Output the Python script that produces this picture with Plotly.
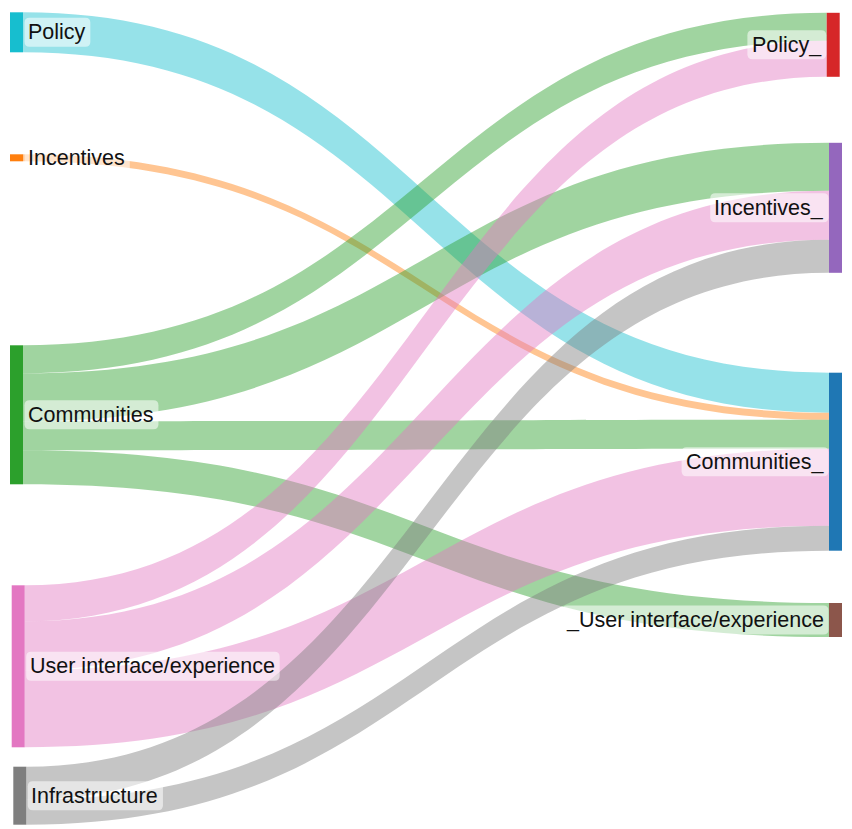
import plotly.graph_objects as go

# ---- data ----
node_labels = ["Policy", "Incentives", "Communities", "User interface/experience", "Infrastructure",
               "Policy_", "Incentives_", "Communities_", "_User interface/experience"]
node_colors = ["#17becf", "#ff7f0e", "#2ca02c", "#e377c2", "#7f7f7f",
               "#d62728", "#9467bd", "#1f77b4", "#8c564b"]

link_source = [0, 1, 2, 2, 2, 2, 3, 3, 3, 4, 4]
link_target = [7, 7, 5, 6, 7, 8, 5, 6, 7, 6, 7]
link_value = [40, 7, 28, 48, 29, 34, 36, 49, 77, 33, 25]

# ---- node placement (fractions of the plot area) ----
node_x = [0.01007, 0.01007, 0.01007, 0.01209, 0.01398, 0.97773, 0.98045, 0.98045, 0.98045]
node_y = [0.02960, 0.18246, 0.49549, 0.80183, 0.95944, 0.04482, 0.24336, 0.55262, 0.74543]

# ---- styling ----
W, H = 844, 821
THICK = 13
PAD = 103.75
FONT = "Arial"
FSIZE = 21.5
TEXT_COLOR = "#111"


def rgba(hex_color, a):
    h = hex_color.lstrip("#")
    r, g, b = int(h[0:2], 16), int(h[2:4], 16), int(h[4:6], 16)
    return f"rgba({r},{g},{b},{a})"


# approximate Arial advance widths (per 1000 em) for label boxes
ARIAL = {' ': 278, '/': 278, '_': 556, 'C': 722, 'I': 278, 'P': 667, 'U': 722,
         'a': 556, 'c': 500, 'e': 556, 'f': 278, 'i': 222, 'l': 222, 'm': 833,
         'n': 556, 'o': 556, 'p': 556, 'r': 333, 's': 500, 't': 278, 'u': 556,
         'v': 500, 'x': 500, 'y': 500}


def text_width(s):
    return sum(ARIAL.get(ch, 556) for ch in s) / 1000.0 * FSIZE


link_colors = [rgba(node_colors[s], 0.45) for s in link_source]

fig = go.Figure(go.Sankey(
    arrangement="freeform",
    node=dict(
        label=["" for _ in node_labels],
        customdata=node_labels,
        hovertemplate="%{customdata}: %{value}<extra></extra>",
        color=node_colors,
        x=node_x,
        y=node_y,
        thickness=THICK,
        pad=PAD,
        line=dict(width=0),
    ),
    link=dict(
        source=link_source,
        target=link_target,
        value=link_value,
        color=link_colors,
    ),
))

# node labels: rounded semi-transparent boxes + text
shapes = []
annotations = []
BOX_H = 29
R = 5
for i, lab in enumerate(node_labels):
    cx = node_x[i] * W
    cy = node_y[i] * H
    w = text_width(lab)
    if node_x[i] < 0.5:
        nx1 = cx + THICK / 2
        tx = nx1 + 5
        bx0, bx1 = nx1 + 1.5, tx + w + 5
        xanchor = "left"
    else:
        nx0 = cx - THICK / 2
        tx = nx0 - 5
        bx0, bx1 = tx - w - 5, nx0 - 0.5
        xanchor = "right"
    x0, x1 = bx0 / W, bx1 / W
    top, bot = 1 - (cy - BOX_H / 2) / H, 1 - (cy + BOX_H / 2) / H
    rx, ry = R / W, R / H
    path = (f"M {x0+rx},{top} L {x1-rx},{top} Q {x1},{top} {x1},{top-ry} "
            f"L {x1},{bot+ry} Q {x1},{bot} {x1-rx},{bot} L {x0+rx},{bot} "
            f"Q {x0},{bot} {x0},{bot+ry} L {x0},{top-ry} Q {x0},{top} {x0+rx},{top} Z")
    shapes.append(dict(type="path", path=path, xref="paper", yref="paper",
                       fillcolor="rgba(255,255,255,0.55)", line=dict(width=0),
                       layer="above"))
    annotations.append(dict(text=lab, x=tx / W, y=1 - cy / H, xref="paper", yref="paper",
                            xanchor=xanchor, yanchor="middle", showarrow=False,
                            borderpad=0, borderwidth=0,
                            font=dict(family=FONT, size=FSIZE, color=TEXT_COLOR)))

fig.update_layout(
    width=W,
    height=H,
    margin=dict(l=0, r=0, t=0, b=0),
    paper_bgcolor="white",
    font=dict(family=FONT, size=FSIZE, color=TEXT_COLOR),
    shapes=shapes,
    annotations=annotations,
)

fig.write_html("out.html")
